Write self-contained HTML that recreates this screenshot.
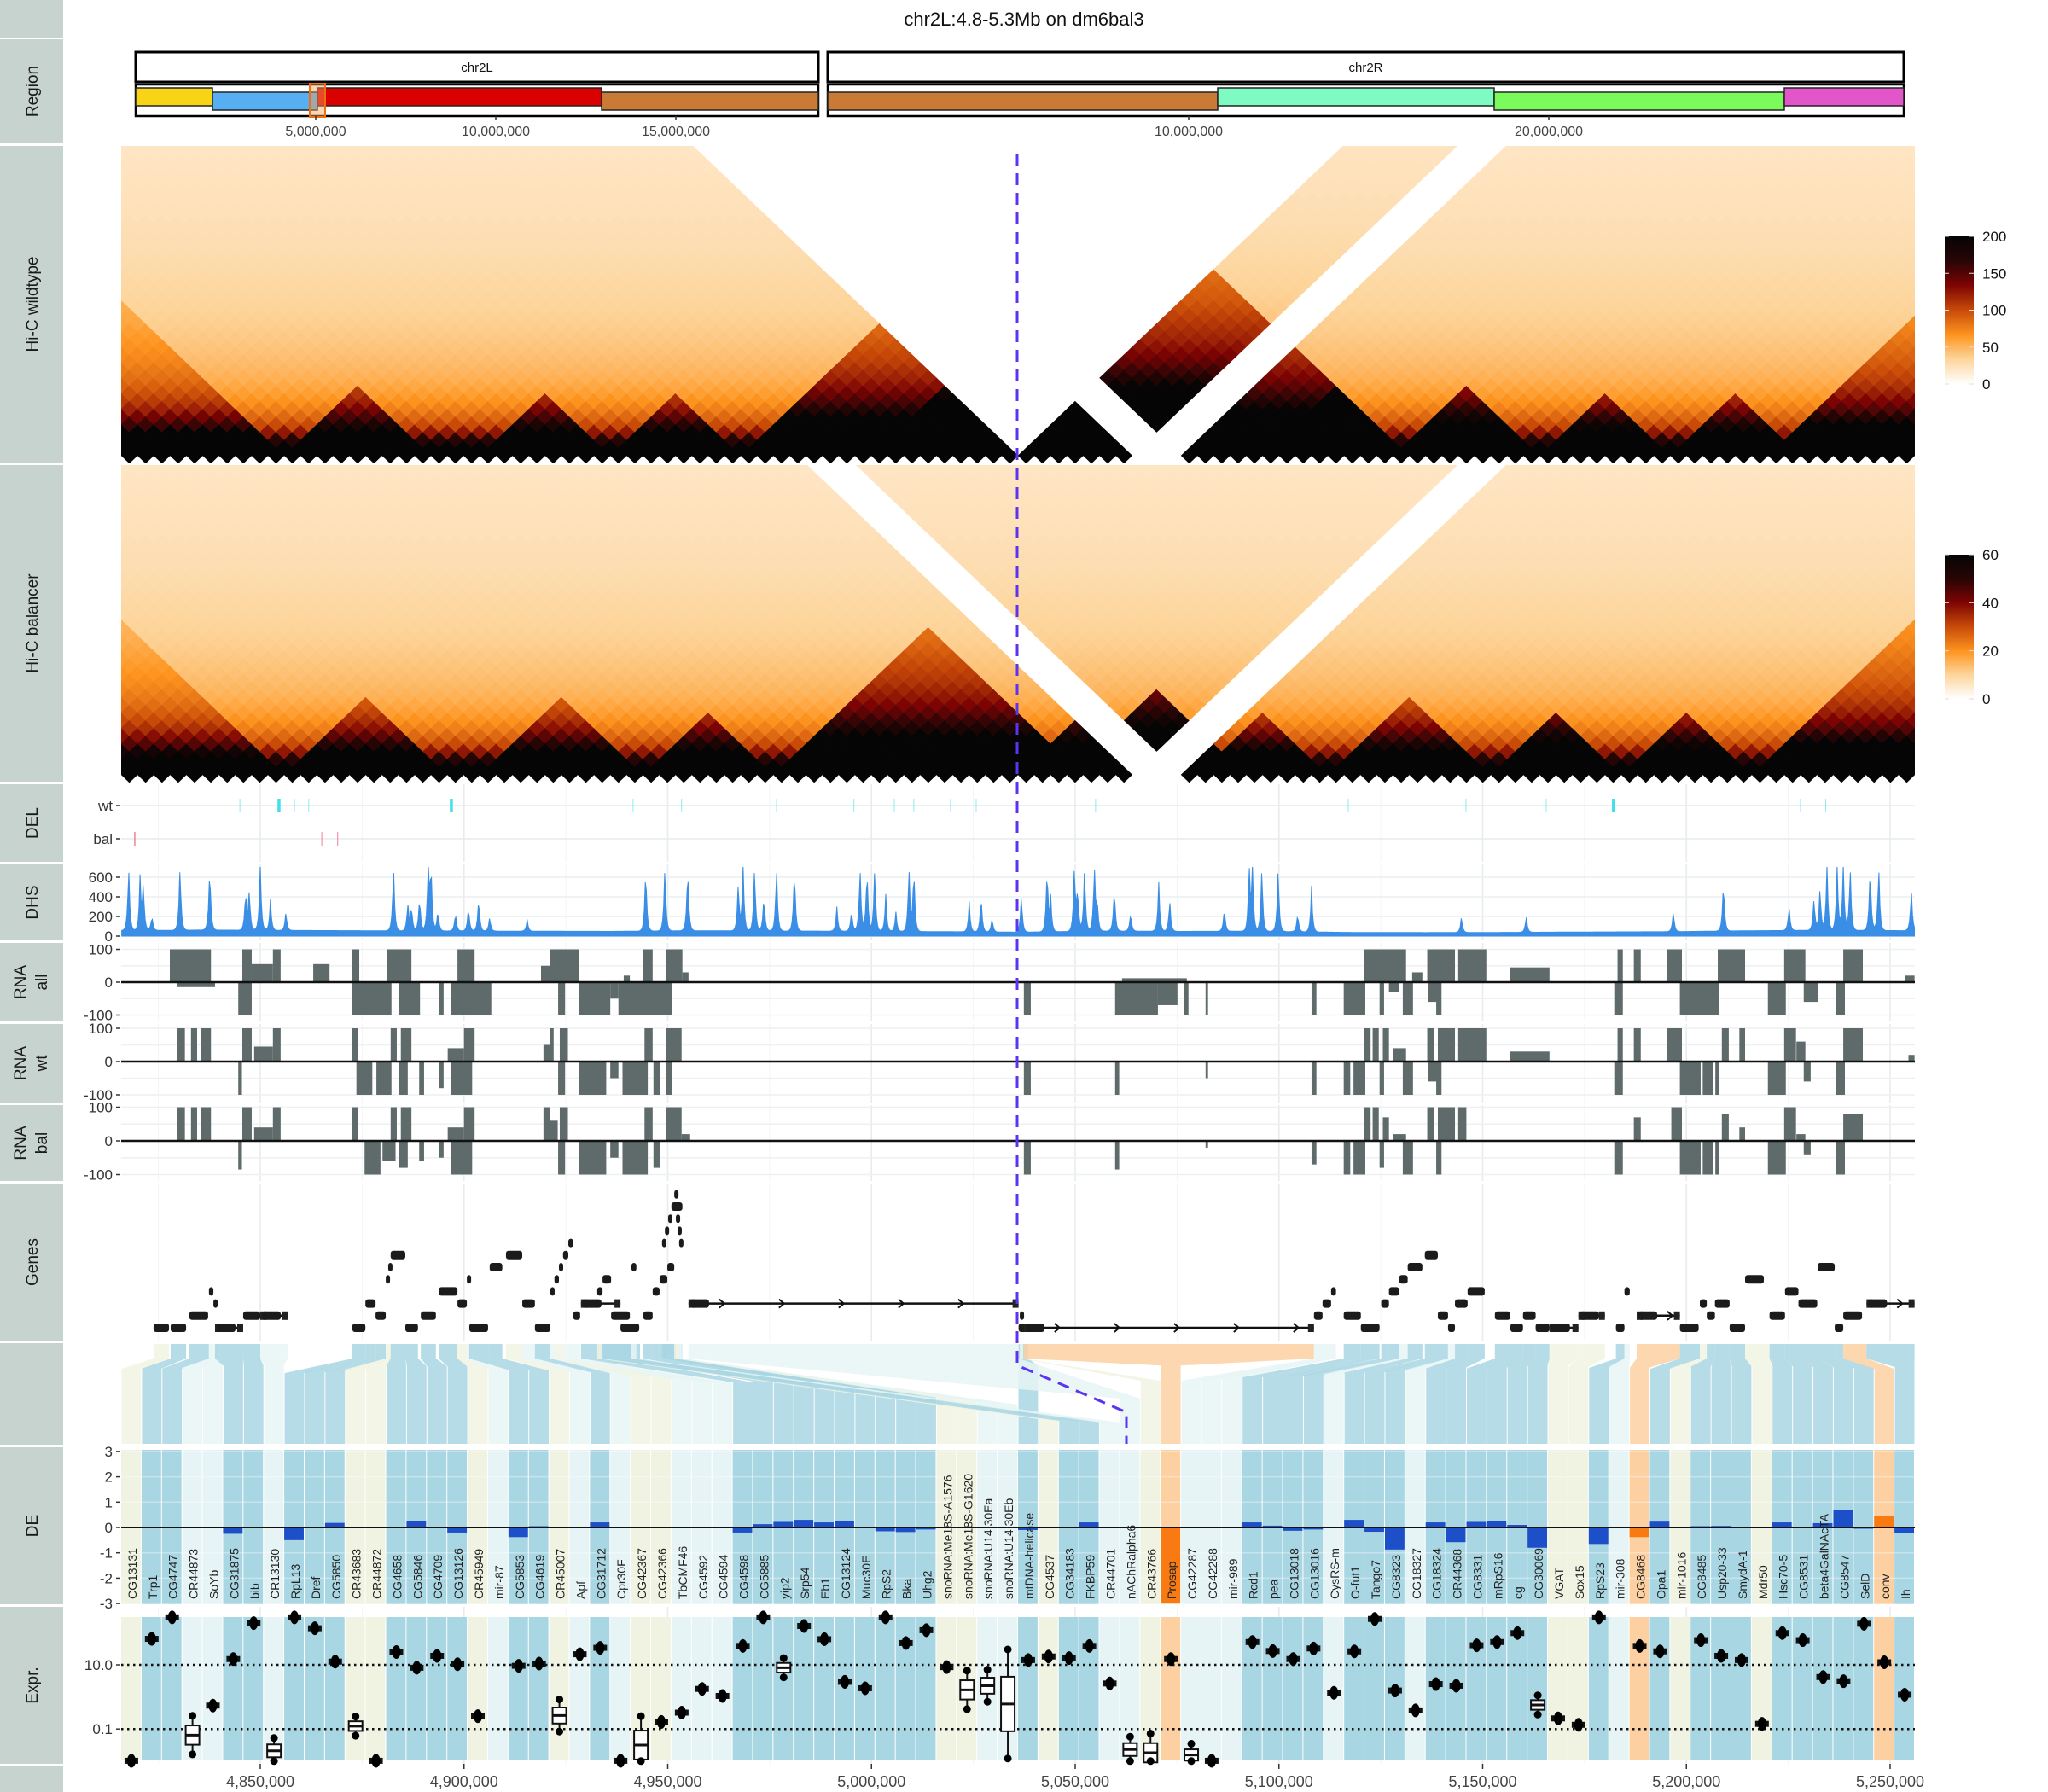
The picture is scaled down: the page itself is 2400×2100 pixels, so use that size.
<!DOCTYPE html>
<html><head><meta charset="utf-8"><title>chr2L:4.8-5.3Mb on dm6bal3</title>
<style>
html,body{margin:0;padding:0;background:#fff;}
svg{display:block;font-family:"Liberation Sans","DejaVu Sans",sans-serif;}
</style></head>
<body>
<svg id="fig" width="2400" height="2100" viewBox="0 0 2400 2100" xmlns="http://www.w3.org/2000/svg">
<defs>
<linearGradient id="hicgrad" x1="0" y1="1" x2="0" y2="0">
<stop offset="0" stop-color="#ffffff"/><stop offset="0.17" stop-color="#fdd49a"/><stop offset="0.33" stop-color="#fe9520"/><stop offset="0.5" stop-color="#c84b08"/><stop offset="0.67" stop-color="#7d0404"/><stop offset="0.83" stop-color="#2a0505"/><stop offset="1" stop-color="#050505"/>
</linearGradient>
<clipPath id="clipWt"><rect x="142" y="171" width="2102" height="372"/></clipPath>
<clipPath id="clipBal"><rect x="142" y="545" width="2102" height="372"/></clipPath>
<clipPath id="clipDhs"><rect x="142" y="1016" width="2102" height="86"/></clipPath>
</defs>
<g id="strips"></g>
<text x="1200" y="30" text-anchor="middle" font-size="22" fill="#111">chr2L:4.8-5.3Mb on dm6bal3</text>
<g id="region"></g>
<g id="grid"></g>
<g id="hicwt" clip-path="url(#clipWt)"></g>
<g id="hicbal" clip-path="url(#clipBal)"></g>
<g id="legend"></g>
<g id="del"></g>
<g id="dhs"></g>
<g id="rna"></g>
<g id="genes"></g>
<g id="links"></g>
<g id="de"></g>
<g id="expr"></g>
<g id="axes"></g>
</svg>
<script>
// ---------------- DATA ----------------
const geneNames=["CG13131","Trp1","CG4747","CR44873","SoYb","CG31875","bib","CR13130","RpL13","Dref","CG5850","CR43683","CR44872","CG4658","CG5846","CG4709","CG13126","CR45949","mir-87","CG5853","CG4619","CR45007","Apf","CG31712","Cpr30F","CG42367","CG42366","TbCMF46","CG4592","CG4594","CG4598","CG5885","yip2","Srp54","Eb1","CG13124","Muc30E","RpS2","Bka","Uhg2","snoRNA:Me18S-A1576","snoRNA:Me18S-G1620","snoRNA:U14:30Ea","snoRNA:U14:30Eb","mtDNA-helicase","CG4537","CG34183","FKBP59","CR44701","nAChRalpha6","CR43766","Prosap","CG42287","CG42288","mir-989","Rcd1","pea","CG13018","CG13016","CysRS-m","O-fut1","Tango7","CG8323","CG18327","CG18324","CR44368","CG8331","mRpS16","cg","CG30069","VGAT","Sox15","RpS23","mir-308","CG8468","Opa1","mir-1016","CG8485","Usp20-33","SmydA-1","Mdr50","Hsc70-5","CG8531","beta4GalNAcTA","CG8547","SelD","conv","Ih"];
const geneCat="bBBppBBpBBBbbBBBBbpBBbpBpbbpppBBBBBBBBBBbbppBbBBppbopppBBBBpBBBpBBBBBBbbBpoBbBBBbBBBBBoB";
const deValues=[0,0,0,0,0,-0.25,-0.03,0,-0.5,-0.02,0.18,0,0,0,0.25,0,-0.2,0,0,-0.38,0.05,0,0,0.2,0,0,0,0,0,0,-0.2,0.13,0.22,0.3,0.2,0.27,0.02,-0.15,-0.18,-0.08,0,0,0,0,-0.1,0,0,0.2,0,0,0,-3,0,0,0,0.2,0.07,-0.13,-0.08,0,0.3,-0.17,-0.87,0,0.2,-0.58,0.22,0.25,0.1,-0.8,0,0,-0.65,0,-0.38,0.23,0,0.05,0.06,0,0,0.2,0.03,0.17,0.7,-0.05,0.47,-0.22];
const exprLog=[-1.99,1.81,2.48,-1.19,-0.27,1.18,2.3,-1.68,2.48,2.14,1.1,-0.91,-1.99,1.4,0.91,1.28,1.02,-0.6,null,0.97,1.04,-0.58,1.33,1.53,-1.99,-1.5,-0.78,-0.49,0.25,0.03,1.59,2.48,0.91,2.21,1.8,0.47,0.27,2.48,1.68,2.08,0.93,0.22,0.35,-0.22,1.15,1.26,1.21,1.59,0.42,-1.64,-1.74,1.18,-1.81,-1.99,null,1.71,1.43,1.18,1.51,0.13,1.42,2.43,0.2,-0.42,0.4,0.35,1.61,1.71,1.99,-0.25,-0.67,-0.87,2.48,null,1.59,1.42,null,1.77,1.28,1.15,-0.84,1.99,1.77,0.62,0.49,2.28,1.08,0.07];
const exprSpread=[0,0,0,0.6,0,0,0,0.4,0,0,0,0.3,0,0,0,0,0,0,0,0,0,0.5,0,0,0,0.9,0,0,0,0,0,0,0.3,0,0,0,0,0,0,0,0,0.6,0.5,1.7,0,0,0,0,0,0.4,0.6,0,0.35,0,0,0,0,0,0,0,0,0,0,0,0,0,0,0,0,0.3,0,0,0,0,0,0,0,0,0,0,0,0,0,0,0,0,0,0];
const geneStartKb=[4823.8,4828.0,4832.6,4837.4,4838.5,4838.9,4845.8,4850.0,4872.6,4875.8,4878.3,4880.8,4881.4,4882.0,4885.6,4889.4,4893.8,4898.4,4900.7,4901.3,4906.3,4910.3,4914.3,4917.4,4921.2,4922.2,4923.3,4924.3,4925.6,4926.8,4928.7,4938.4,4944.0,4946.3,4948.0,4949.9,4948.6,4949.3,4950.1,4950.9,4951.6,4952.0,4952.4,4952.8,5036.1,4932.7,4934.0,4936.1,4941.1,4955.1,5036.4,5037.4,5108.6,5110.7,5112.8,5115.9,5120.1,5125.1,5127.0,5129.5,5131.6,5135.8,5139.0,5141.5,5143.2,5146.3,5153.0,5156.8,5159.9,5163.0,5166.4,5173.5,5182.7,5184.8,5187.8,5198.4,5203.3,5205.0,5207.0,5210.6,5214.4,5220.4,5224.2,5227.5,5232.2,5236.4,5238.5,5244.2];
const geneEndKb=[4827.6,4831.8,4837.4,4838.5,4839.1,4845.8,4850.0,4856.7,4875.8,4878.3,4880.8,4881.4,4882.0,4885.6,4888.7,4893.1,4898.4,4900.7,4901.3,4906.3,4909.4,4914.3,4917.4,4921.2,4922.2,4923.3,4924.3,4925.6,4926.8,4928.5,4938.4,4943.2,4946.3,4948.0,4949.9,4951.6,4949.3,4950.1,4950.9,4953.6,4952.0,4952.4,4952.8,4953.2,5038.5,4934.0,4936.1,4941.1,4942.3,5036.1,5037.2,5108.6,5110.7,5112.8,5114.0,5120.1,5124.7,5127.0,5129.5,5131.6,5135.2,5139.0,5141.5,5143.2,5146.3,5150.5,5156.8,5159.9,5163.0,5166.4,5173.5,5180.0,5184.8,5186.1,5198.4,5203.3,5205.0,5207.0,5210.6,5214.4,5220.4,5224.2,5227.5,5232.2,5236.4,5238.5,5244.2,5256.0];
const geneRow=[0,0,1,3,2,0,1,1,0,2,1,4,5,6,0,1,3,2,4,0,5,6,2,0,3,4,5,6,7,1,2,0,1,3,4,5,7,8,9,10,11,9,8,7,0,3,4,1,5,2,1,0,1,2,3,1,0,2,3,4,5,6,1,0,2,3,1,0,1,0,0,1,0,3,1,0,2,1,2,0,4,1,3,2,5,0,1,2];
const delWt=[4845.0,4854.6,4858.4,4861.9,4896.9,4941.5,4953.4,4976.7,4995.7,5005.6,5010.4,5019.4,5025.7,5055.0,5117.0,5145.9,5165.6,5182.1,5228.0,5234.2];
const delWtStrong=[0,1,0,0,1,0,0,0,0,0,0,0,0,0,0,0,0,1,0,0];
const delBal=[4819.2,4865.1,4869.0];
const dhsPeakKb=[4817.7,4820.5,4821.3,4823.4,4830.3,4837.6,4846.4,4847.3,4850.0,4852.5,4856.3,4882.7,4886.2,4887.1,4889.1,4891.2,4891.9,4893.6,4897.9,4901.1,4903.6,4906.3,4915.5,4944.6,4949.3,4954.9,4967.3,4968.5,4971.3,4973.6,4976.7,4981.1,4991.5,4995.1,4997.2,4998.9,5000.8,5003.5,5006.0,5009.2,5010.4,5024.0,5026.9,5029.6,5036.8,5043.1,5044.0,5049.8,5050.6,5052.3,5054.7,5055.4,5059.6,5063.6,5070.5,5073.2,5086.6,5092.7,5093.5,5095.8,5099.8,5104.6,5108.0,5144.8,5160.7,5196.8,5209.1,5225.2,5231.3,5232.8,5234.5,5237.0,5238.5,5240.2,5245.1,5247.2,5255.2];
const dhsPeakVal=[700,540,500,160,700,700,420,430,700,320,200,700,300,270,380,700,700,230,200,270,370,150,120,700,700,700,520,700,700,390,700,700,250,230,700,700,700,380,200,700,700,310,400,150,400,700,350,700,450,700,700,300,480,200,500,340,250,700,700,700,700,200,470,170,180,220,550,260,350,470,700,700,700,700,700,700,450];
const dhsBaseKb=[4816,4836,4856,4876,4896,4916,4936,4956,4976,4996,5016,5036,5056,5076,5096,5116,5136,5156,5176,5196,5216,5236,5256];
const dhsBaseVal=[55,62,58,55,52,50,48,55,52,50,46,40,52,48,50,38,36,38,42,45,55,60,55];
const rnaAll=[[4827.8,4837.9,100],[4845.6,4847.9,100],[4847.9,4853.1,55],[4853.1,4855.0,100],[4863.0,4867.0,55],[4872.6,4874.3,100],[4881.0,4887.1,100],[4898.4,4902.6,100],[4918.9,4921.0,50],[4921.0,4928.3,100],[4939.2,4940.7,20],[4944.0,4946.3,100],[4949.5,4953.6,100],[4953.6,4955.1,30],[5061.5,5077.4,12],[5120.8,5131.2,100],[5132.7,5135.2,30],[5136.4,5143.2,100],[5144.0,5150.9,100],[5156.8,5166.4,45],[5183.1,5184.4,100],[5187.1,5188.8,100],[5195.3,5198.9,100],[5207.7,5214.4,100],[5224.0,5229.2,100],[5238.5,5243.3,100],[5253.7,5256.0,20],
[4829.5,4838.9,-15],[4844.6,4847.9,-100],[4872.6,4882.2,-100],[4884.1,4889.2,-100],[4893.8,4895.0,-100],[4896.7,4906.7,-100],[4923.1,4924.8,-100],[4928.3,4935.9,-100],[4935.9,4937.9,-50],[4937.9,4951.1,-100],[5037.4,5039.1,-100],[5059.8,5070.3,-100],[5070.3,5075.1,-70],[5076.6,5077.8,-100],[5082.0,5082.6,-100],[5108.0,5109.2,-100],[5115.9,5121.2,-100],[5124.7,5125.8,-100],[5127.0,5129.5,-30],[5130.4,5132.9,-100],[5136.7,5138.8,-60],[5138.6,5139.9,-100],[5182.3,5184.4,-100],[5198.4,5208.1,-100],[5220.0,5224.4,-100],[5228.8,5232.2,-60],[5236.6,5238.9,-100]];
const rnaWt=[[4829.5,4831.5,100],[4833.0,4834.5,100],[4835.5,4837.9,100],[4845.6,4847.9,100],[4848.5,4853.1,45],[4853.1,4855.0,100],[4872.6,4874.0,100],[4882.0,4883.5,100],[4884.5,4887.1,100],[4900.0,4902.6,100],[4896.0,4900.0,40],[4919.5,4921.0,50],[4921.0,4922.0,100],[4923.5,4925.5,100],[4944.3,4946.3,100],[4949.5,4953.4,100],[5120.8,5122.5,100],[5123.0,5124.5,100],[5125.5,5127.0,100],[5128.0,5131.2,40],[5136.4,5138.0,100],[5139.0,5143.2,100],[5144.0,5150.9,100],[5156.8,5166.4,30],[5183.1,5184.4,100],[5187.1,5188.8,100],[5195.3,5198.9,100],[5208.7,5210.4,100],[5213.0,5214.4,100],[5224.0,5226.9,100],[5227.0,5229.2,60],[5238.5,5243.3,100],[5254.5,5256.0,20],
[4844.6,4845.5,-100],[4873.6,4877.5,-100],[4878.5,4882.2,-100],[4884.1,4886.2,-100],[4889.0,4890.2,-100],[4893.8,4895.0,-80],[4896.7,4902.0,-100],[4923.1,4924.8,-100],[4928.3,4934.9,-100],[4935.9,4937.9,-50],[4938.9,4945.1,-100],[4946.5,4948.1,-100],[4949.5,4951.1,-100],[5037.4,5039.1,-100],[5059.8,5060.8,-100],[5082.0,5082.6,-50],[5108.0,5109.2,-100],[5115.9,5117.5,-100],[5118.3,5121.2,-100],[5124.7,5125.8,-100],[5130.4,5132.9,-100],[5136.7,5138.8,-60],[5138.6,5139.9,-100],[5182.3,5184.4,-100],[5198.4,5203.5,-100],[5204.0,5206.5,-100],[5207.1,5208.1,-100],[5220.0,5224.4,-100],[5228.8,5230.5,-60],[5236.6,5238.9,-100]];
const rnaBal=[[4829.5,4831.5,100],[4833.0,4834.5,100],[4835.5,4837.9,100],[4845.6,4847.9,100],[4848.5,4853.1,40],[4853.1,4855.0,100],[4872.6,4874.0,100],[4882.0,4883.5,100],[4884.5,4887.1,100],[4900.0,4902.6,100],[4896.0,4900.0,40],[4919.5,4921.0,100],[4921.0,4923.0,60],[4923.5,4925.5,100],[4944.3,4946.3,100],[4949.5,4953.4,100],[4953.4,4955.5,20],[5120.8,5122.5,100],[5123.0,5124.5,100],[5125.5,5127.0,70],[5128.0,5131.2,20],[5136.4,5138.0,100],[5139.0,5143.2,100],[5144.0,5146.0,100],[5187.1,5188.8,70],[5196.3,5198.9,100],[5208.7,5210.4,80],[5213.0,5214.4,40],[5224.0,5226.9,100],[5227.0,5229.2,20],[5238.5,5243.3,80],
[4844.6,4845.5,-85],[4875.6,4879.5,-100],[4880.0,4883.2,-60],[4884.1,4886.2,-80],[4889.0,4890.2,-60],[4893.8,4895.0,-50],[4896.7,4902.0,-100],[4923.1,4924.8,-100],[4928.3,4934.9,-100],[4935.9,4937.9,-50],[4938.9,4945.1,-100],[4946.5,4948.1,-80],[5037.4,5039.1,-100],[5059.8,5060.8,-85],[5082.0,5082.6,-20],[5108.0,5109.2,-70],[5115.9,5117.5,-100],[5118.3,5121.2,-100],[5124.7,5125.8,-80],[5130.4,5132.9,-100],[5138.6,5139.9,-100],[5182.3,5184.4,-100],[5198.4,5203.5,-100],[5204.0,5206.5,-100],[5207.1,5208.1,-100],[5220.0,5224.4,-100],[5228.8,5230.5,-40],[5236.6,5238.9,-100]];
const hicDecay=[400,260,170,125,100,86,75,67,61,56,52,49,46,44,42,40,38,36,35,34,33,32,31,30,29,28,27,26,26,25,25,24,24,23,23,22,22,21,21,20,20,19,19,19,18,18];
const wtTadStart=[-20,10,22,30,38,46,55,55,65,70,78,87,95,101];
const wtTadEnd=[9,18,29,37,54,54,61,78,71,78,86,94,102,140];
const wtTadBoost=[0.6,0.8,0.8,0.7,1.3,0.8,1.0,1.6,0.5,0.6,1.2,0.9,0.8,1.0];
const balTadStart=[-20,10,22,32,40,55,58,66,74,84,92,100];
const balTadEnd=[9,19,31,39,58,61,68,73,83,91,99,140];
const balTadBoost=[0.5,0.7,0.7,0.8,1.4,1.2,1.8,0.7,0.8,1.2,0.9,1.0];
const gapBins=[62,63,64];
const wtBreakBin=55;
const bandStart=[159,249,372,705,970,1427,1751,2091];
const bandEnd=[249,372,705,959,1427,1751,2091,2231];
const bandColor=["#f7d516","#55aff2","#da0000","#c97a36","#c97a36","#7dfbc3","#7bfb5b","#e356c9"];
const bandRaised=[1,0,1,0,0,1,0,1];
const xTickKb=[4850,4900,4950,5000,5050,5100,5150,5200,5250];
const xTickLabels=["4,850,000","4,900,000","4,950,000","5,000,000","5,050,000","5,100,000","5,150,000","5,200,000","5,250,000"];

// ---------------- HELPERS ----------------
const NS="http://www.w3.org/2000/svg";
function mk(parent,tag,attrs){const el=document.createElementNS(NS,tag);for(const k in attrs)el.setAttribute(k,attrs[k]);parent.appendChild(el);return el;}
const X=kb=>305+(kb-4850)*4.775;
const COLW=2102/88, COL0=142;
const catFill={B:"#a9d6e3",b:"#f1f3e2",p:"#e7f4f5",o:"#fdd0a2"};
const $=id=>document.getElementById(id);

// ---------------- STRIPS ----------------
const stripBounds=[[0,44],[46,168],[171,542],[545,916],[919,1010],[1013,1102],[1105,1197],[1200,1292],[1295,1384],[1387,1571],[1574,1693],[1696,1880],[1883,2067],[2070,2100]];
const stripLabels=["","Region","Hi-C wildtype","Hi-C balancer","DEL","DHS","RNA|all","RNA|wt","RNA|bal","Genes","","DE","Expr.",""];
stripBounds.forEach((b,i)=>{
  const r=mk($("strips"),"rect",{x:0,y:b[0],width:74,height:b[1]-b[0],fill:"#c6d3ce"});
  
  
  const lab=stripLabels[i]; if(!lab) return;
  const cy=(b[0]+b[1])/2; const parts=lab.split("|");
  parts.forEach((p,k)=>{
    const cx=parts.length===1?44:(30+k*25);
    const t=mk($("strips"),"text",{x:cx,y:cy,transform:`rotate(-90 ${cx} ${cy})`,"text-anchor":"middle","font-size":19,fill:"#1a1a1a"});
    t.textContent=p;
    
    
  });
});

// ---------------- REGION ----------------
(function(){
  const g=$("region");
  [[159,959,"chr2L"],[970,2231,"chr2R"]].forEach(c=>{
    const r=mk(g,"rect",{x:c[0],y:61,width:c[1]-c[0],height:35,fill:"#fff",stroke:"#000","stroke-width":3});
    
    
    const t=mk(g,"text",{x:(c[0]+c[1])/2,y:84,"text-anchor":"middle","font-size":15,fill:"#111"});t.textContent=c[2];
    
    
    const o=mk(g,"rect",{x:c[0],y:99,width:c[1]-c[0],height:37,fill:"#fff",stroke:"#000","stroke-width":2.5});
    
    
  });
  bandStart.forEach((s,i)=>{
    const y=bandRaised[i]?103:108;
    const r=mk(g,"rect",{x:s,y:y,width:bandEnd[i]-s,height:21,fill:bandColor[i],stroke:"#222","stroke-width":1.5});
    
    
  });
  const h=mk(g,"rect",{x:363,y:98,width:18,height:39,fill:"#f4a460","fill-opacity":0.45,stroke:"#f07010","stroke-width":2});
  
  
  [[370,"5,000,000"],[581,"10,000,000"],[792,"15,000,000"],[1393,"10,000,000"],[1815,"20,000,000"]].forEach(t=>{
    mk(g,"line",{x1:t[0],x2:t[0],y1:136,y2:141,stroke:"#333","stroke-width":1.5});
    const tx=mk(g,"text",{x:t[0],y:159,"text-anchor":"middle","font-size":16,fill:"#444"});tx.textContent=t[1];
    
    
  });
})();

// ---------------- GRID ----------------
(function(){
  const g=$("grid");
  const spans=[[919,1010],[1013,1102],[1105,1197],[1200,1292],[1295,1384],[1387,1571],[1883,2067]];
  for(let kb=4825;kb<=5250;kb+=25){
    const x=X(kb); const major=(kb%50===0);
    spans.forEach(s=>mk(g,"line",{x1:x,x2:x,y1:s[0],y2:s[1],stroke:major?"#e8ecec":"#f2f4f4","stroke-width":major?1.6:1}));
  }
})();

// ---------------- HI-C ----------------
function hicColor(t){
  t=Math.max(0,Math.min(1,t));
  const st=[[0,[255,255,255]],[0.17,[253,212,154]],[0.33,[254,149,32]],[0.5,[200,75,8]],[0.67,[125,4,4]],[0.83,[42,5,5]],[1,[5,5,5]]];
  for(let k=1;k<st.length;k++){ if(t<=st[k][0]){const a=st[k-1],b=st[k];const f=(t-a[0])/(b[0]-a[0]);
    return `rgb(${Math.round(a[1][0]+(b[1][0]-a[1][0])*f)},${Math.round(a[1][1]+(b[1][1]-a[1][1])*f)},${Math.round(a[1][2]+(b[1][2]-a[1][2])*f)})`;}}
  return "#050505";
}
function drawHic(gid,bottom,mapFn,tadS,tadE,tadB,scale,vmax){
  const g=$(gid); const n=110, w=2102/n, hh=9.1, B=bottom-hh;
  for(let i=-46;i<n+46;i++){
    const gi=mapFn(i); if(gi===null) continue;
    for(let j=i;j<n+46 && j-i<=43;j++){
      const gj=mapFn(j); if(gj===null) continue;
      const dg=Math.abs(gj-gi); if(dg>=hicDecay.length) continue;
      const cx=142+(i+j+1)/2*w, cy=B-(j-i)*hh;
      if(cx<142-w||cx>2244+w) continue;
      if(cy<bottom-372-hh) continue;
      let v=hicDecay[dg]*scale; let boost=1;
      for(let t=0;t<tadS.length;t++){ if(i>=tadS[t]&&j<=tadE[t]) boost+=tadB[t]; }
      v*=boost;
      const p=mk(g,"polygon",{points:`${cx-w/2-0.3},${cy} ${cx},${cy-hh-0.3} ${cx+w/2+0.3},${cy} ${cx},${cy+hh+0.3}`,fill:hicColor(v/vmax)});
      
      
    }
  }
}
drawHic("hicwt",543,i=>{ if(gapBins.includes(i)) return null; if(i<wtBreakBin) return i; if(i<=61) return i-wtBreakBin+1000; return i-3-wtBreakBin+1000; },wtTadStart,wtTadEnd,wtTadBoost,1,200);
drawHic("hicbal",917,i=>gapBins.includes(i)?null:i,balTadStart,balTadEnd,balTadBoost,0.3,60);

(function(){
  const g=$("legend");
  [[277,450,[200,150,100,50,0],200],[650,819,[60,40,20,0],60]].forEach(L=>{
    const r=mk(g,"rect",{x:2279,y:L[0],width:34,height:L[1]-L[0],fill:"url(#hicgrad)"});
    
    
    L[2].forEach(v=>{
      const y=L[1]-(v/L[3])*(L[1]-L[0]);
      mk(g,"line",{x1:2279,x2:2284,y1:y,y2:y,stroke:"#ddd","stroke-width":1});
      mk(g,"line",{x1:2308,x2:2313,y1:y,y2:y,stroke:"#ddd","stroke-width":1});
      const t=mk(g,"text",{x:2323,y:y+6,"font-size":17,fill:"#111"});t.textContent=v;
      
      
    });
  });
})();

// ---------------- DEL ----------------
(function(){
  const g=$("del");
  [[944,"wt"],[983,"bal"]].forEach(r=>{
    mk(g,"line",{x1:142,x2:2244,y1:r[0],y2:r[0],stroke:"#e6ebeb","stroke-width":1.5});
    mk(g,"line",{x1:136,x2:141,y1:r[0],y2:r[0],stroke:"#333","stroke-width":1.5});
    const t=mk(g,"text",{x:132,y:r[0]+6,"text-anchor":"end","font-size":17,fill:"#333"});t.textContent=r[1];
    
    
  });
  delWt.forEach((kb,i)=>{
    const l=mk(g,"line",{x1:X(kb),x2:X(kb),y1:936,y2:952,stroke:"#40e0e8","stroke-width":delWtStrong[i]?3.5:1,"stroke-opacity":delWtStrong[i]?1:0.6});
    
    
  });
  delBal.forEach((kb,i)=>{
    const l=mk(g,"line",{x1:X(kb),x2:X(kb),y1:975,y2:991,stroke:"#f06080","stroke-width":i===0?1.5:1,"stroke-opacity":0.8});
    
    
  });
})();

// ---------------- DHS ----------------
(function(){
  const g=$("dhs"); const Y=v=>1097-v*0.115;
  [0,200,400,600].forEach(v=>{
    mk(g,"line",{x1:142,x2:2244,y1:Y(v),y2:Y(v),stroke:"#ebefef","stroke-width":1.5});
    mk(g,"line",{x1:136,x2:141,y1:Y(v),y2:Y(v),stroke:"#333","stroke-width":1.5});
    const t=mk(g,"text",{x:132,y:Y(v)+6,"text-anchor":"end","font-size":17,fill:"#333"});t.textContent=v;
    
    
  });
  let d=`M${X(4816)},${Y(0)}`;
  for(let kb=4816;kb<=5256;kb+=0.25){
    let k=0; while(k<dhsBaseKb.length-2 && kb>dhsBaseKb[k+1]) k++;
    const f=(kb-dhsBaseKb[k])/(dhsBaseKb[k+1]-dhsBaseKb[k]);
    let v=dhsBaseVal[k]+(dhsBaseVal[k+1]-dhsBaseVal[k])*f;
    dhsPeakKb.forEach((p,i)=>{const dx=(kb-p)/0.35; if(Math.abs(dx)<5) v+=dhsPeakVal[i]*Math.exp(-Math.abs(dx)*1.2);});
    d+=` L${X(kb).toFixed(1)},${Y(Math.min(v,720)).toFixed(1)}`;
  }
  d+=` L${X(5256)},${Y(0)} Z`;
  const p=mk(g,"path",{d:d,fill:"#3a8ee6",stroke:"#3a8ee6","stroke-width":1,"clip-path":"url(#clipDhs)"});
  
  
})();

// ---------------- RNA ----------------
function drawRna(blocks,zeroY,s,name){
  const g=$("rna"); const Y=v=>zeroY-v*s;
  [100,50,0,-50,-100].forEach(v=>mk(g,"line",{x1:142,x2:2244,y1:Y(v),y2:Y(v),stroke:"#eef1f1","stroke-width":1.5}));
  [100,0,-100].forEach(v=>{
    mk(g,"line",{x1:136,x2:141,y1:Y(v),y2:Y(v),stroke:"#333","stroke-width":1.5});
    const t=mk(g,"text",{x:132,y:Y(v)+6,"text-anchor":"end","font-size":17,fill:"#333"});t.textContent=v;
    
    
  });
  blocks.forEach(b=>{
    const x1=X(b[0]),x2=X(b[1]); const v=Math.max(-104,Math.min(100,b[2]));
    const r=mk(g,"rect",{x:x1,y:Math.min(Y(0),Y(v)),width:Math.max(1.2,x2-x1),height:Math.abs(Y(v)-Y(0)),fill:"#5f6b6b"});
    
    
  });
  mk(g,"line",{x1:142,x2:2244,y1:zeroY,y2:zeroY,stroke:"#111","stroke-width":2.5});
}
drawRna(rnaAll,1151,0.385,"rna-all");
drawRna(rnaWt,1244,0.39,"rna-wt");
drawRna(rnaBal,1337,0.395,"rna-bal");

// ---------------- GENES ----------------
(function(){
  const g=$("genes");
  geneNames.forEach((n,i)=>{
    const y=1556-geneRow[i]*14.2; const x1=X(geneStartKb[i]), x2=X(geneEndKb[i]);
    if(x2-x1>30){
      mk(g,"line",{x1:x1,x2:x2,y1:y,y2:y,stroke:"#111","stroke-width":2.5});
      for(let x=x1+40;x<x2-10;x+=70) mk(g,"path",{d:`M${x-4},${y-5} L${x+2},${y} L${x-4},${y+5}`,stroke:"#111",fill:"none","stroke-width":2});
      mk(g,"rect",{x:x1,y:y-5,width:7,height:10,fill:"#222"});
      mk(g,"rect",{x:x2-7,y:y-5,width:7,height:10,fill:"#222"});
    }
    const r=mk(g,"rect",{x:x2-x1>30?x1+2:x1,y:y-5,width:Math.max(5,Math.min(x2-x1,22)),height:10,rx:3,fill:"#1b1b1b"});
    
    
  });
})();

// ---------------- LINKS ----------------
(function(){
  const g=$("links");
  geneNames.forEach((n,i)=>{
    const tx1=X(geneStartKb[i]), tx2=Math.max(X(geneEndKb[i]),tx1+4);
    const bx1=COL0+i*COLW+0.5, bx2=COL0+(i+1)*COLW-0.5;
    const shift=Math.abs((tx1+tx2)/2-(bx1+bx2)/2);
    const yb1=1592, yb2=Math.min(1668,1600+shift*0.12);
    const p=mk(g,"polygon",{points:`${tx1},1575 ${tx2},1575 ${tx2},${yb1} ${bx2},${yb2} ${bx2},1692 ${bx1},1692 ${bx1},${yb2} ${tx1},${yb1}`,fill:catFill[geneCat[i]],"fill-opacity":0.85});
    
    
  });
  const bp=mk(g,"path",{d:"M1192,180 L1192,1600 L1320,1655 L1320,1692",stroke:"#5b34f0","stroke-width":3,fill:"none","stroke-dasharray":"14,9"});
  
  
})();

// ---------------- DE ----------------
(function(){
  const g=$("de"); const Y=v=>1790-v*29.7;
  geneNames.forEach((n,i)=>{
    const r=mk(g,"rect",{x:COL0+i*COLW,y:1699,width:COLW-1,height:181,fill:catFill[geneCat[i]]});
    
    
  });
  [-3,-2,-1,0,1,2,3].forEach(v=>{
    mk(g,"line",{x1:142,x2:2244,y1:Y(v),y2:Y(v),stroke:"#ffffff","stroke-opacity":0.35,"stroke-width":1.5});
    mk(g,"line",{x1:136,x2:141,y1:Y(v),y2:Y(v),stroke:"#333","stroke-width":1.5});
    const t=mk(g,"text",{x:132,y:Y(v)+6,"text-anchor":"end","font-size":17,fill:"#333"});t.textContent=v;
    
    
  });
  deValues.forEach((v,i)=>{
    if(v===0) return;
    const y1=Math.min(Y(0),Y(v)), h=Math.abs(Y(v)-Y(0));
    const r=mk(g,"rect",{x:COL0+i*COLW,y:y1,width:COLW-1,height:Math.min(h,1879-y1),fill:geneCat[i]==="o"?"#f97a12":"#1d4fc8"});
    
    
  });
  mk(g,"line",{x1:142,x2:2244,y1:Y(0),y2:Y(0),stroke:"#111","stroke-width":2});
  geneNames.forEach((n,i)=>{
    const cx=COL0+(i+0.5)*COLW+6, cy=1874;
    const t=mk(g,"text",{x:cx,y:cy,transform:`rotate(-90 ${cx} ${cy})`,"font-size":14,fill:"#222"});
    t.textContent=n;
    
    
  });
})();

// ---------------- EXPR ----------------
(function(){
  const g=$("expr"); const Y=l=>1951-(l-1)*37.6;
  geneNames.forEach((n,i)=>{
    const r=mk(g,"rect",{x:COL0+i*COLW,y:1895,width:COLW-1,height:168,fill:catFill[geneCat[i]]});
    
    
  });
  [[1,"10.0"],[-1,"0.1"]].forEach(t=>{
    mk(g,"line",{x1:142,x2:2244,y1:Y(t[0]),y2:Y(t[0]),stroke:"#111","stroke-width":2.5,"stroke-dasharray":"2.5,4.5"});
    mk(g,"line",{x1:136,x2:141,y1:Y(t[0]),y2:Y(t[0]),stroke:"#333","stroke-width":1.5});
    const tx=mk(g,"text",{x:132,y:Y(t[0])+6,"text-anchor":"end","font-size":17,fill:"#333"});tx.textContent=t[1];
    
    
  });
  exprLog.forEach((v,i)=>{
    if(v===null) return;
    const cx=COL0+(i+0.5)*COLW, y=Y(v), s=exprSpread[i];
    if(s>0){
      const yt=Y(Math.min(2.5,v+s)), yb=Y(Math.max(-2,v-s));
      mk(g,"line",{x1:cx,x2:cx,y1:yt,y2:yb,stroke:"#111","stroke-width":2});
      const b=mk(g,"rect",{x:cx-8,y:Y(v+s*0.5),width:16,height:Y(v-s*0.5)-Y(v+s*0.5),fill:"#fff",stroke:"#111","stroke-width":2});
      
      
      mk(g,"line",{x1:cx-8,x2:cx+8,y1:y,y2:y,stroke:"#111","stroke-width":3});
      mk(g,"circle",{cx:cx,cy:yt,r:4.5,fill:"#000"});
      mk(g,"circle",{cx:cx,cy:yb,r:4.5,fill:"#000"});
    } else {
      mk(g,"rect",{x:cx-8,y:y-3.5,width:16,height:7,fill:"#111"});
      const c=mk(g,"ellipse",{cx:cx,cy:y,rx:5,ry:8,fill:"#000"});
      
      
    }
  });
})();

// ---------------- AXIS ----------------
(function(){
  const g=$("axes");
  xTickKb.forEach((kb,i)=>{
    mk(g,"line",{x1:X(kb),x2:X(kb),y1:2067,y2:2073,stroke:"#333","stroke-width":1.5});
    const t=mk(g,"text",{x:X(kb),y:2094,"text-anchor":"middle","font-size":18,fill:"#444"});t.textContent=xTickLabels[i];
    
    
  });
})();
</script>
</body></html>
